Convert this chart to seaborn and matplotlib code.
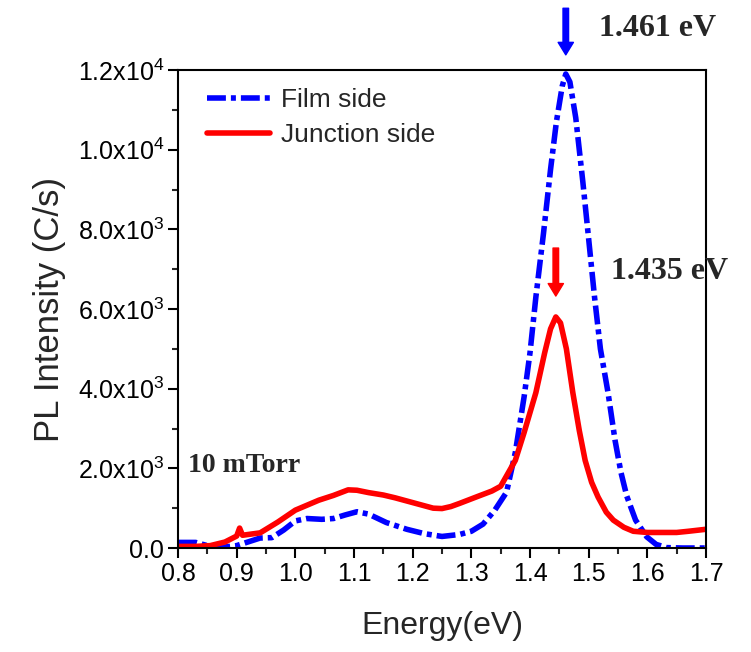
import numpy as np
import pandas as pd
import matplotlib
matplotlib.use("Agg")
import matplotlib.pyplot as plt
import seaborn as sns
from matplotlib.ticker import MultipleLocator, FuncFormatter

# ---- data ----
film_energy = [0.80, 0.83, 0.85, 0.87, 0.90, 0.94, 0.96, 0.98, 1.00, 1.02, 1.045, 1.065,
               1.085, 1.105, 1.125, 1.155, 1.19, 1.22, 1.25, 1.28, 1.30, 1.32, 1.34, 1.36,
               1.375, 1.39, 1.40, 1.41, 1.423, 1.435, 1.445, 1.455, 1.461, 1.468, 1.478,
               1.49, 1.499, 1.51, 1.52, 1.533, 1.545, 1.555, 1.565, 1.58, 1.599, 1.615,
               1.633, 1.66, 1.70]
film_intensity = [140, 140, 60, 10, 60, 250, 260, 450, 680, 740, 720, 740,
                  830, 910, 850, 640, 470, 360, 290, 340, 420, 600, 950, 1400,
                  2400, 3800, 4900, 6300, 7900, 9500, 10700, 11600, 11900, 11700, 10800,
                  9200, 7900, 6300, 5000, 3900, 2700, 1900, 1300, 700, 280, 90,
                  10, 0, 0]

junction_energy = [0.80, 0.83, 0.855, 0.88, 0.90, 0.905, 0.91, 0.94, 0.97, 1.00, 1.04,
                   1.065, 1.09, 1.105, 1.125, 1.15, 1.17, 1.20, 1.235, 1.25, 1.265, 1.28,
                   1.31, 1.335, 1.35, 1.375, 1.39, 1.41, 1.425, 1.435, 1.444, 1.452,
                   1.462, 1.473, 1.484, 1.494, 1.505, 1.516, 1.53, 1.542, 1.56, 1.576,
                   1.60, 1.65, 1.67, 1.70]
junction_intensity = [40, 40, 60, 150, 300, 500, 320, 380, 650, 950, 1200,
                      1320, 1460, 1450, 1390, 1330, 1260, 1140, 1000, 990, 1040, 1120,
                      1290, 1430, 1550, 2200, 2900, 3900, 4900, 5500, 5800, 5650,
                      5000, 3900, 2950, 2200, 1650, 1280, 900, 700, 520, 420,
                      390, 390, 420, 470]

series_labels = ["Film side", "Junction side"]
peak_labels = ["1.461 eV", "1.435 eV"]
peak_positions = [1.461, 1.444]
sample_label = "10 mTorr"
x_label = "Energy(eV)"
y_label = "PL Intensity (C/s)"

# ---- style ----
sns.set_theme(style="ticks")
plt.rcParams["font.family"] = ["Liberation Sans", "DejaVu Sans"]
plt.rcParams["mathtext.fontset"] = "custom"
plt.rcParams["mathtext.rm"] = "Liberation Sans"
plt.rcParams["mathtext.it"] = "Liberation Sans:italic"
plt.rcParams["mathtext.bf"] = "Liberation Sans:bold"

fig = plt.figure(figsize=(7.51, 6.52), dpi=100)
ax = fig.add_axes([178 / 751, 1 - 548 / 652, (706 - 178) / 751, (548 - 70) / 652])

film_df = pd.DataFrame({"Energy": film_energy, "Intensity": film_intensity})
junc_df = pd.DataFrame({"Energy": junction_energy, "Intensity": junction_intensity})

sns.lineplot(data=film_df, x="Energy", y="Intensity", ax=ax, color="#0000ff",
             lw=4.0, linestyle=(0, (3.4, 0.9, 0.9, 0.9)), sort=False,
             estimator=None, label=series_labels[0])
sns.lineplot(data=junc_df, x="Energy", y="Intensity", ax=ax, color="#ff0000",
             lw=4.0, sort=False, estimator=None, label=series_labels[1])

ax.set_xlim(0.8, 1.7)
ax.set_ylim(0, 12000)
ax.xaxis.set_major_locator(MultipleLocator(0.1))
ax.xaxis.set_minor_locator(MultipleLocator(0.05))
ax.yaxis.set_major_locator(MultipleLocator(2000))
ax.yaxis.set_minor_locator(MultipleLocator(1000))


def yfmt(v, pos):
    if v == 0:
        return "0.0"
    e = int(np.floor(np.log10(abs(v))))
    m = v / 10 ** e
    return f"{m:.1f}x10$^{{{e}}}$"


ax.yaxis.set_major_formatter(FuncFormatter(yfmt))
ax.xaxis.set_major_formatter(FuncFormatter(lambda v, p: f"{v:.1f}"))

ax.tick_params(axis="both", which="major", direction="out", length=7, width=1.5,
               labelsize=18, colors="black", pad=3)
ax.tick_params(axis="both", which="minor", direction="out", length=4, width=1.5)
ax.tick_params(top=False, right=False)
for s in ax.spines.values():
    s.set_linewidth(1.5)
    s.set_color("black")
    s.set_visible(True)

ax.set_xlabel(x_label, fontsize=23, labelpad=18)
ax.set_ylabel(y_label, fontsize=25, labelpad=8)

leg = ax.legend(loc="upper left", frameon=False, fontsize=19, handlelength=2.4,
                handletextpad=0.4, labelspacing=0.4, borderaxespad=0.3,
                bbox_to_anchor=(0.02, 1.0))

# annotations
ax.annotate("", xy=(peak_positions[0], 12380), xytext=(peak_positions[0], 13550),
            annotation_clip=False,
            arrowprops=dict(facecolor="#0000ff", edgecolor="#0000ff", width=4,
                            headwidth=11, headlength=9, shrink=0))
ax.annotate("", xy=(peak_positions[1], 6325), xytext=(peak_positions[1], 7530),
            annotation_clip=False,
            arrowprops=dict(facecolor="#ff0000", edgecolor="#ff0000", width=4,
                            headwidth=11, headlength=9, shrink=0))

ax.text(1.517, 13050, peak_labels[0], fontsize=23, fontweight="bold",
        family="Liberation Serif", va="center", ha="left", clip_on=False)
ax.text(1.538, 6930, peak_labels[1], fontsize=23, fontweight="bold",
        family="Liberation Serif", va="center", ha="left", clip_on=False)
ax.text(0.817, 2060, sample_label, fontsize=20, fontweight="bold",
        family="Liberation Serif", va="center", ha="left")

fig.savefig("out.png", dpi=100)
